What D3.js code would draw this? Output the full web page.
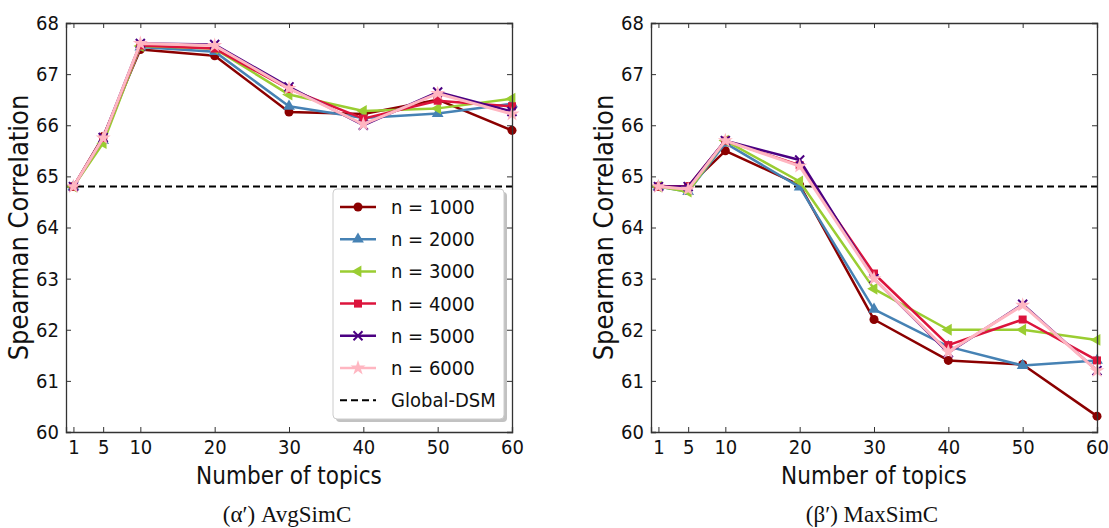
<!DOCTYPE html>
<meta charset="utf-8">
<style>
body { margin: 0; background: #fff; }
text { font-family: "DejaVu Sans Condensed", "DejaVu Sans", sans-serif; font-stretch: condensed; fill: #111; }
.line { fill: none; stroke-width: 2.5px; stroke-linejoin: round; }
.caption { font-family: "Liberation Serif", "DejaVu Serif", serif; font-stretch: normal; }
</style>
<body>
<script src="https://d3js.org/d3.v7.min.js"></script>
<script>

// x values (number of topics) and tick labels
var topics = [1, 5, 10, 20, 30, 40, 50, 60];
var yTicks = [60, 61, 62, 63, 64, 65, 66, 67, 68];
var seriesNames = ["n = 1000", "n = 2000", "n = 3000", "n = 4000", "n = 5000", "n = 6000"];
var globalDSM = 64.8;

// (a') AvgSimC
var avg1000 = [64.8, 65.78, 67.48, 67.36, 66.26, 66.22, 66.5, 65.9];
var avg2000 = [64.8, 65.7, 67.53, 67.44, 66.37, 66.14, 66.23, 66.42];
var avg3000 = [64.8, 65.65, 67.55, 67.5, 66.6, 66.28, 66.33, 66.52];
var avg4000 = [64.8, 65.75, 67.56, 67.5, 66.71, 66.13, 66.48, 66.37];
var avg5000 = [64.8, 65.76, 67.6, 67.58, 66.75, 66.0, 66.65, 66.27];
var avg6000 = [64.8, 65.75, 67.6, 67.56, 66.72, 66.02, 66.62, 66.22];

// (b') MaxSimC
var max1000 = [64.8, 64.8, 65.5, 64.83, 62.2, 61.4, 61.32, 60.31];
var max2000 = [64.8, 64.7, 65.65, 64.79, 62.4, 61.67, 61.3, 61.4];
var max3000 = [64.8, 64.7, 65.7, 64.9, 62.8, 62.0, 62.0, 61.8];
var max4000 = [64.8, 64.8, 65.7, 65.22, 63.1, 61.7, 62.2, 61.4];
var max5000 = [64.8, 64.8, 65.7, 65.32, 63.0, 61.55, 62.5, 61.2];
var max6000 = [64.8, 64.75, 65.7, 65.2, 63.0, 61.57, 62.48, 61.2];

var colors = ["#8b0000", "#4682b4", "#9acd32", "#dc143c", "#4b0082", "#ffb6c1"];
var shapes = ["circle", "triUp", "triLeft", "square", "x", "star"];

var W = 1109, H = 528;
var yTop = 23, yBottom = 432;

var svg = d3.select("body").append("svg")
    .attr("width", W)
    .attr("height", H);

var y = d3.scaleLinear().domain([60, 68]).range([yBottom, yTop]);

// marker drawing
function marker(g, shape, color) {
  if (shape == "circle") {
    g.append("path").attr("d", d3.symbol(d3.symbolCircle, 64)()).attr("fill", color);
  } else if (shape == "triUp") {
    g.append("path").attr("d", d3.symbol(d3.symbolTriangle, 60)()).attr("fill", color);
  } else if (shape == "triLeft") {
    g.append("path").attr("d", d3.symbol(d3.symbolTriangle, 60)())
      .attr("transform", "rotate(-90)").attr("fill", color);
  } else if (shape == "square") {
    g.append("path").attr("d", d3.symbol(d3.symbolSquare, 64)()).attr("fill", color);
  } else if (shape == "x") {
    g.append("path").attr("d", "M-4.5,-4.5L4.5,4.5M-4.5,4.5L4.5,-4.5")
      .attr("stroke", color).attr("stroke-width", 2).attr("fill", "none");
  } else if (shape == "star") {
    g.append("path").attr("d", d3.symbol(d3.symbolStar, 70)()).attr("fill", color);
  }
}

function panel(x0, x1, series, caption, withLegend) {
  var x = d3.scaleLinear().domain([0, 60]).range([x0, x1]);
  var g = svg.append("g");

  // Global-DSM baseline
  g.append("line")
    .attr("x1", x0).attr("x2", x1)
    .attr("y1", y(globalDSM)).attr("y2", y(globalDSM))
    .attr("stroke", "#000").attr("stroke-width", 2)
    .attr("stroke-dasharray", "7,4");

  var line = d3.line()
    .x(function(d, i) { return x(topics[i]); })
    .y(function(d) { return y(d); });

  series.forEach(function(s, k) {
    g.append("path")
      .datum(s)
      .attr("class", "line")
      .style("stroke", colors[k])
      .style("stroke-width", k == 5 ? "3px" : null)
      .attr("d", line);
    s.forEach(function(v, i) {
      var m = g.append("g").attr("transform", "translate(" + x(topics[i]) + "," + y(v) + ")");
      marker(m, shapes[k], colors[k]);
    });
  });

  // axes with inward ticks on all sides
  var ax = g.append("g").attr("transform", "translate(0," + yBottom + ")")
    .call(d3.axisBottom(x).tickValues(topics).tickSize(-5).tickPadding(8));
  var axTop = g.append("g").attr("transform", "translate(0," + yTop + ")")
    .call(d3.axisTop(x).tickValues(topics).tickSize(-5).tickFormat(""));
  var ay = g.append("g").attr("transform", "translate(" + x0 + ",0)")
    .call(d3.axisLeft(y).tickValues(yTicks).tickSize(-5).tickPadding(7));
  var ayR = g.append("g").attr("transform", "translate(" + x1 + ",0)")
    .call(d3.axisRight(y).tickValues(yTicks).tickSize(-5).tickFormat(""));

  [ax, axTop, ay, ayR].forEach(function(a) {
    a.select(".domain").attr("stroke", "#333").attr("stroke-width", 1.3);
    a.selectAll(".tick line").attr("stroke", "#333");
    a.selectAll("text").style("font-size", "20px").attr("font-family", null).attr("fill", "#111");
  });

  // axis titles
  g.append("text")
    .attr("x", (x0 + x1) / 2)
    .attr("y", 484)
    .attr("text-anchor", "middle")
    .style("font-size", "24px")
    .text("Number of topics");

  g.append("text")
    .attr("transform", "translate(" + (x0 - 38) + "," + ((yTop + yBottom) / 2) + ") rotate(-90)")
    .attr("text-anchor", "middle")
    .style("font-size", "27px")
    .text("Spearman Correlation");

  g.append("text")
    .attr("class", "caption")
    .attr("x", (x0 + x1) / 2 - 2)
    .attr("y", 522)
    .attr("text-anchor", "middle")
    .style("font-size", "23px")
    .text(caption);

  if (withLegend) {
    var lx = 333, ly = 189, lw = 171, lh = 230;
    g.append("rect")
      .attr("x", lx + 3).attr("y", ly + 3).attr("width", lw).attr("height", lh)
      .attr("rx", 4).attr("fill", "#999").attr("opacity", 0.6);
    g.append("rect")
      .attr("x", lx).attr("y", ly).attr("width", lw).attr("height", lh)
      .attr("rx", 4).attr("fill", "#fff").attr("stroke", "#ccc");

    var names = seriesNames.concat(["Global-DSM"]);
    names.forEach(function(name, k) {
      var ry = ly + 18 + k * 32.2;
      var item = g.append("g");
      if (k < seriesNames.length) {
        item.append("line")
          .attr("x1", lx + 7).attr("x2", lx + 43).attr("y1", ry).attr("y2", ry)
          .attr("stroke", colors[k]).attr("stroke-width", 2.5);
        var m = item.append("g").attr("transform", "translate(" + (lx + 25) + "," + ry + ")");
        marker(m, shapes[k], colors[k]);
      } else {
        item.append("line")
          .attr("x1", lx + 7).attr("x2", lx + 43).attr("y1", ry).attr("y2", ry)
          .attr("stroke", "#000").attr("stroke-width", 2)
          .attr("stroke-dasharray", "7,4");
      }
      item.append("text")
        .attr("x", lx + 58).attr("y", ry)
        .attr("dy", ".35em")
        .style("font-size", "20px")
        .text(name);
    });
  }
}

panel(66, 512, [avg1000, avg2000, avg3000, avg4000, avg5000, avg6000], "(α′) AvgSimC", true);
panel(651, 1097, [max1000, max2000, max3000, max4000, max5000, max6000], "(β′) MaxSimC", false);

</script>
</body>
